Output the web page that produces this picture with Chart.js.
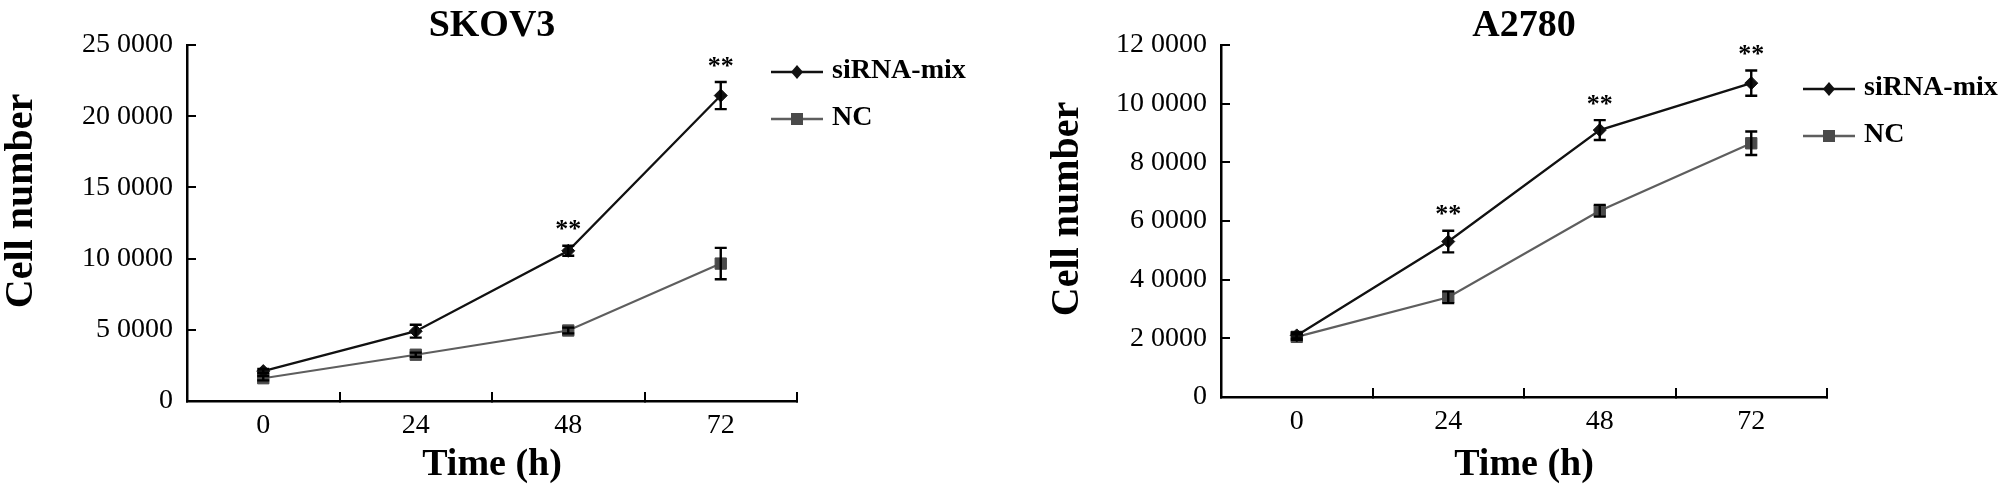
<!DOCTYPE html>
<html><head><meta charset="utf-8">
<script src="https://cdn.jsdelivr.net/npm/chart.js@4/dist/chart.umd.min.js"></script>
<style>
html,body{margin:0;padding:0;background:#fff;}
#wrap{position:relative;width:2008px;height:504px;overflow:hidden;background:#fff;}
canvas{position:absolute;top:0;}
</style></head><body>
<div id="wrap">
<canvas id="c1" width="1004" height="504" style="left:0"></canvas>
<canvas id="c2" width="1004" height="504" style="left:1004px"></canvas>
</div>
<script>
// ---------- data ----------
const timeLabels = ['0', '24', '48', '72'];
const seriesNames = ['siRNA-mix', 'NC'];

const skovSiRNA    = [21000, 49000, 105500, 214500];
const skovSiRNAErr = [1500, 4500, 3500, 9500];
const skovNC       = [16000, 32500, 49500, 96500];
const skovNCErr    = [1500, 1500, 2000, 11000];
const skovSig      = ['', '', '**', '**'];
const skovYTicks   = [0, 50000, 100000, 150000, 200000, 250000];
const skovYLabels  = ['0', '5 0000', '10 0000', '15 0000', '20 0000', '25 0000'];

const a2780SiRNA    = [21000, 53000, 91000, 107000];
const a2780SiRNAErr = [1000, 3700, 3400, 4300];
const a2780NC       = [20500, 34000, 63500, 86500];
const a2780NCErr    = [1000, 2000, 2000, 4000];
const a2780Sig      = ['', '**', '**', '**'];
const a2780YTicks   = [0, 20000, 40000, 60000, 80000, 100000, 120000];
const a2780YLabels  = ['0', '2 0000', '4 0000', '6 0000', '8 0000', '10 0000', '12 0000'];

// ---------- styling ----------
const FAM = "'Liberation Serif', 'Times New Roman', serif";
Chart.defaults.font.family = FAM;
Chart.defaults.color = '#000';

const errorBarPlugin = {
  id: 'errorBars',
  afterDatasetsDraw(chart) {
    const ctx = chart.ctx, ys = chart.scales.y;
    chart.data.datasets.forEach((ds, di) => {
      const meta = chart.getDatasetMeta(di);
      meta.data.forEach((pt, i) => {
        const v = ds.data[i], e = ds.errors[i];
        const yt = ys.getPixelForValue(v + e), yb = ys.getPixelForValue(v - e);
        ctx.save();
        ctx.strokeStyle = '#000';
        ctx.lineWidth = 2.4;
        ctx.beginPath();
        ctx.moveTo(pt.x, yt); ctx.lineTo(pt.x, yb);
        ctx.moveTo(pt.x - 6, yt); ctx.lineTo(pt.x + 6, yt);
        ctx.moveTo(pt.x - 6, yb); ctx.lineTo(pt.x + 6, yb);
        ctx.stroke();
        ctx.restore();
      });
    });
  }
};

const sigPlugin = {
  id: 'sigMarks',
  afterDatasetsDraw(chart, args, opts) {
    const ctx = chart.ctx, ys = chart.scales.y;
    const ds = chart.data.datasets[0];
    const meta = chart.getDatasetMeta(0);
    ctx.save();
    ctx.font = 'bold 26px ' + FAM;
    ctx.fillStyle = '#000';
    ctx.textAlign = 'center';
    ctx.textBaseline = 'alphabetic';
    opts.marks.forEach((m, i) => {
      if (!m) return;
      const top = ys.getPixelForValue(ds.data[i] + ds.errors[i]);
      ctx.fillText(m, meta.data[i].x, top - 8.5);
    });
    ctx.restore();
  }
};

const legendPlugin = {
  id: 'lineLegend',
  afterDraw(chart, args, opts) {
    const ctx = chart.ctx;
    chart.data.datasets.forEach((ds, i) => {
      const y = opts.y + i * opts.gap;
      const x0 = opts.x, x1 = opts.x + 52, xm = opts.x + 26;
      ctx.save();
      ctx.strokeStyle = ds.borderColor;
      ctx.lineWidth = 2.5;
      ctx.beginPath(); ctx.moveTo(x0, y); ctx.lineTo(x1, y); ctx.stroke();
      ctx.fillStyle = ds.backgroundColor;
      ctx.beginPath();
      if (ds.pointStyle === 'rectRot') {
        ctx.moveTo(xm, y - 7); ctx.lineTo(xm + 6, y); ctx.lineTo(xm, y + 7); ctx.lineTo(xm - 6, y);
        ctx.closePath();
      } else {
        ctx.rect(xm - 6, y - 6, 12, 12);
      }
      ctx.fill();
      ctx.font = 'bold 28px ' + FAM;
      ctx.fillStyle = '#000';
      ctx.textAlign = 'left';
      ctx.textBaseline = 'middle';
      ctx.fillText(ds.label, x1 + 9, y - 1);
      ctx.restore();
    });
  }
};

const yTitlePlugin = {
  id: 'yTitle',
  afterDraw(chart, args, opts) {
    const ctx = chart.ctx;
    ctx.save();
    ctx.translate(opts.x, opts.y);
    ctx.rotate(-Math.PI / 2);
    ctx.font = 'bold 40px ' + FAM;
    ctx.fillStyle = '#000';
    ctx.textAlign = 'center';
    ctx.textBaseline = 'middle';
    ctx.fillText(opts.text, 0, 0);
    ctx.restore();
  }
};

function makeChart(canvasId, cfg) {
  const axisGrid = {
    offset: true, drawOnChartArea: false, drawTicks: true, tickLength: -9,
    color: '#000', lineWidth: 2
  };
  return new Chart(document.getElementById(canvasId), {
    type: 'line',
    data: {
      labels: timeLabels,
      datasets: [
        {
          label: seriesNames[0], data: cfg.siRNA, errors: cfg.siRNAErr,
          borderColor: '#111', backgroundColor: '#111', pointBackgroundColor: '#111',
          pointBorderColor: '#111', borderWidth: 2.3, pointStyle: 'rectRot',
          pointRadius: 6.5, pointBorderWidth: 1, tension: 0, order: 0
        },
        {
          label: seriesNames[1], data: cfg.nc, errors: cfg.ncErr,
          borderColor: '#5e5e5e', backgroundColor: '#4a4a4a', pointBackgroundColor: '#4a4a4a',
          pointBorderColor: '#4a4a4a', borderWidth: 2.2, pointStyle: 'rect',
          pointRadius: 8, pointBorderWidth: 1, tension: 0, order: 1
        }
      ]
    },
    options: {
      responsive: false,
      animation: false,
      devicePixelRatio: 1,
      layout: { padding: { left: 0, right: cfg.padRight, top: 0, bottom: 0 } },
      scales: {
        x: {
          type: 'category', offset: true,
          grid: Object.assign({}, axisGrid, { offset: true }),
          border: { display: true, color: '#000', width: 2.5 },
          ticks: { padding: 17, color: '#000', font: { family: FAM, size: 28 } },
          title: {
            display: true, text: 'Time (h)', color: '#000',
            font: { family: FAM, size: 38, weight: 'bold' },
            padding: { top: 0, bottom: 16 }
          },
          afterFit(s) { s.height = cfg.xHeight; }
        },
        y: {
          type: 'linear', min: 0, max: cfg.yTicks[cfg.yTicks.length - 1],
          grid: Object.assign({}, axisGrid, { offset: false }),
          border: { display: true, color: '#000', width: 2.5 },
          afterBuildTicks(s) { s.ticks = cfg.yTicks.map(v => ({ value: v })); },
          ticks: {
            padding: 23, color: '#000', font: { family: FAM, size: 28 },
            callback(value) { return cfg.yLabels[cfg.yTicks.indexOf(value)]; }
          },
          afterFit(s) { s.width = cfg.yWidth; }
        }
      },
      plugins: {
        legend: { display: false },
        tooltip: { enabled: false },
        title: {
          display: true, text: cfg.title, fullSize: false, color: '#000',
          font: { family: FAM, size: 38, weight: 'bold', lineHeight: 1 },
          padding: { top: 7, bottom: 0 }
        },
        sigMarks: { marks: cfg.sig },
        lineLegend: { x: cfg.legX, y: cfg.legY, gap: 47 },
        yTitle: { text: 'Cell number', x: cfg.yTitleX, y: cfg.yTitleY }
      }
    },
    plugins: [errorBarPlugin, sigPlugin, legendPlugin, yTitlePlugin]
  });
}

makeChart('c1', {
  title: 'SKOV3', siRNA: skovSiRNA, siRNAErr: skovSiRNAErr, nc: skovNC, ncErr: skovNCErr,
  sig: skovSig, yTicks: skovYTicks, yLabels: skovYLabels,
  yWidth: 187, xHeight: 103, padRight: 207,
  legX: 771, legY: 72, yTitleX: 22, yTitleY: 201
});
makeChart('c2', {
  title: 'A2780', siRNA: a2780SiRNA, siRNAErr: a2780SiRNAErr, nc: a2780NC, ncErr: a2780NCErr,
  sig: a2780Sig, yTicks: a2780YTicks, yLabels: a2780YLabels,
  yWidth: 217, xHeight: 107, padRight: 181,
  legX: 799, legY: 89, yTitleX: 64, yTitleY: 209
});
</script>
</body></html>
